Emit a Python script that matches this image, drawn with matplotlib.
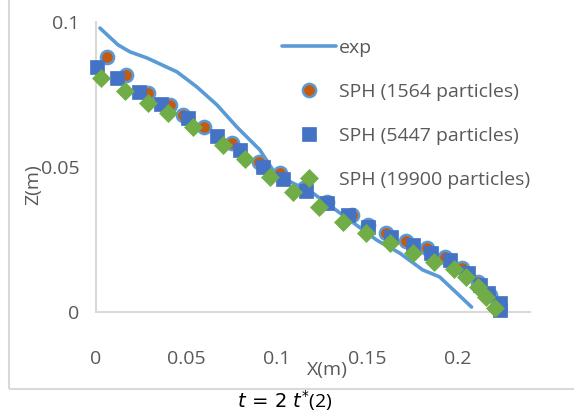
import matplotlib
matplotlib.use("Agg")
import matplotlib.pyplot as plt
from matplotlib.patches import Rectangle

W, H = 574, 413

exp_x = [0.0022, 0.0122, 0.0188, 0.0282, 0.0448, 0.0558, 0.0669, 0.0779, 0.0906, 0.0978,
         0.1055, 0.1199, 0.1403, 0.1552, 0.1680, 0.1807, 0.1900, 0.1994, 0.2077]
exp_z = [0.0979, 0.0921, 0.0897, 0.0876, 0.0828, 0.0776, 0.0714, 0.0638, 0.0559, 0.0490,
         0.0455, 0.0410, 0.0317, 0.0248, 0.0203, 0.0145, 0.0121, 0.0066, 0.0017]

sph1564_x = [0.0059, 0.0164, 0.0289, 0.0409, 0.0482, 0.0598, 0.0751, 0.0902, 0.1017, 0.1150,
             0.1275, 0.1413, 0.1504, 0.1602, 0.1717, 0.1830, 0.1928, 0.2022, 0.2110, 0.2177, 0.2215]
sph1564_z = [0.0878, 0.0817, 0.0754, 0.0714, 0.0679, 0.0637, 0.0583, 0.0518, 0.0478, 0.0428,
             0.0380, 0.0334, 0.0301, 0.0273, 0.0246, 0.0220, 0.0190, 0.0152, 0.0103, 0.0059, 0.0017]

sph5447_x = [0.0007, 0.0114, 0.0238, 0.0359, 0.0510, 0.0667, 0.0796, 0.0921, 0.1035, 0.1160,
             0.1275, 0.1394, 0.1503, 0.1634, 0.1753, 0.1855, 0.1956, 0.2057, 0.2122, 0.2167,
             0.2232, 0.2232]
sph5447_z = [0.0846, 0.0806, 0.0760, 0.0717, 0.0668, 0.0607, 0.0559, 0.0501, 0.0458, 0.0418,
             0.0375, 0.0334, 0.0294, 0.0260, 0.0231, 0.0202, 0.0179, 0.0133, 0.0093, 0.0064,
             0.0030, 0.0007]

sph19900_x = [0.0028, 0.0160, 0.0289, 0.0399, 0.0538, 0.0703, 0.0823, 0.0961, 0.1090, 0.1234,
              0.1366, 0.1492, 0.1624, 0.1753, 0.1867, 0.1978, 0.2048, 0.2112, 0.2159, 0.2204]
sph19900_z = [0.0806, 0.0763, 0.0722, 0.0685, 0.0637, 0.0576, 0.0527, 0.0467, 0.0415, 0.0363,
              0.0311, 0.0271, 0.0237, 0.0204, 0.0173, 0.0147, 0.0122, 0.0087, 0.0053, 0.0013]

x_ticks = [0, 0.05, 0.1, 0.15, 0.2]
x_tick_labels = ["0", "0.05", "0.1", "0.15", "0.2"]
y_ticks = [0, 0.05, 0.1]
y_tick_labels = ["0", "0.05", "0.1"]

labels = ["exp", "SPH (1564 particles)", "SPH (5447 particles)", "SPH (19900 particles)"]

plt.rcParams['font.family'] = ['Open Sans', 'DejaVu Sans']
GRAY = '#595959'
FS = 14

fig = plt.figure(figsize=(W / 100, H / 100), dpi=100)
fig.patch.set_facecolor('white')

def fx(px):
    return px / W

def fy(py):
    return 1 - py / H

# outer chart border
fig.patches.append(Rectangle((fx(9), fy(389)), 1.2, 1.2, transform=fig.transFigure,
                             fill=False, edgecolor='#D9D9D9', lw=1.5, clip_on=False))

ax = fig.add_axes([fx(96), fy(312), fx(530) - fx(96), fy(22) - fy(312)])
ax.set_xlim(0, 0.24)
ax.set_ylim(0, 0.1)

ax.plot(exp_x, exp_z, color='#5B9BD5', lw=2.6, label=labels[0], zorder=2, solid_capstyle='round')
ax.plot(sph1564_x, sph1564_z, ls='none', marker='o', ms=9.5, mfc='#C55A11', mec='#5B9BD5',
        mew=1.8, label=labels[1], zorder=3, clip_on=False)
ax.plot(sph5447_x, sph5447_z, ls='none', marker='s', ms=9.8, mfc='#4472C4', mec='#4472C4',
        mew=0.5, label=labels[2], zorder=4, clip_on=False)
ax.plot(sph19900_x, sph19900_z, ls='none', marker='D', ms=9.5, mfc='#70AD47', mec='#70AD47',
        mew=0.5, label=labels[3], zorder=5, clip_on=False)

for s in ['top', 'right']:
    ax.spines[s].set_visible(False)
for s in ['left', 'bottom']:
    ax.spines[s].set_color('#D9D9D9')
    ax.spines[s].set_linewidth(1.5)

ax.set_xticks(x_ticks)
ax.set_xticklabels(x_tick_labels)
ax.set_yticks(y_ticks)
ax.set_yticklabels(y_tick_labels)
ax.tick_params(axis='both', length=0, labelsize=FS, labelcolor=GRAY)
ax.tick_params(axis='x', pad=27)
ax.tick_params(axis='y', pad=12)

fig.text(fx(33), fy(185), "Z(m)", rotation=90, ha='center', va='center', fontsize=FS, color=GRAY)
fig.text(fx(327), fy(370), "X(m)", ha='center', va='center', fontsize=FS, color=GRAY)
fig.text(fx(285), fy(401), r"$t\,=\,2\;t^{*}$(2)", ha='center', va='center', fontsize=FS,
         color='black')

leg = ax.legend(loc='upper left', bbox_to_anchor=(fx(282), fy(39)), bbox_transform=fig.transFigure,
                frameon=False, fontsize=FS, labelcolor=GRAY, handlelength=2.8,
                handletextpad=0.15, labelspacing=1.33, borderpad=0, borderaxespad=0)

fig.savefig("out.png", dpi=100)
